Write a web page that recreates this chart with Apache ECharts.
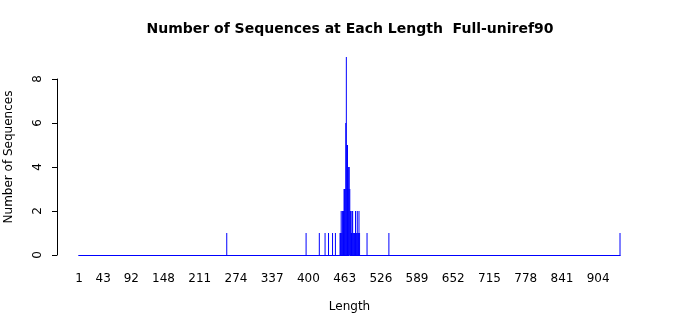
<!DOCTYPE html>
<html>
<head>
<meta charset="utf-8">
<script src="https://cdn.jsdelivr.net/npm/echarts@6/dist/echarts.min.js"></script>
<style>html,body{margin:0;padding:0;background:#fff;}#c{width:700px;height:315px;}</style>
</head>
<body>
<div id="c"></div>
<script>
// Sequence lengths that occur and their counts
const lengths = [258, 396, 419, 429, 435, 442, 447, 455, 456, 457, 458, 459, 460, 461, 462, 463, 464, 465, 466, 467, 468, 469, 470, 471, 472, 473, 474, 475, 476, 477, 478, 479, 480, 481, 482, 483, 484, 485, 486, 487, 488, 489, 502, 540, 942];
const counts  = [1,   1,   1,   1,   1,   1,   1,   1,   1,   2,   1,   2,   2,   2,   3,   3,   3,   6,   9,   5,   5,   3,   4,   4,   3,   2,   2,   1,   2,   2,   1,   1,   1,   1,   2,   1,   1,   2,   1,   1,   2,   1,   1,   1,   1];
const xTickLabels = [1, 43, 92, 148, 211, 274, 337, 400, 463, 526, 589, 652, 715, 778, 841, 904];
const yTicks = [0, 2, 4, 6, 8];
const minLength = 1;
const maxLength = 942;

const categories = [];
const values = [];
for (let v = minLength; v <= maxLength; v++) { categories.push(String(v)); values.push(null); }
lengths.forEach((L, i) => { values[L - minLength] = counts[i]; });
const tickSet = new Set(xTickLabels.map(String));

const chart = echarts.init(document.getElementById('c'), null, {renderer: 'canvas'});
const font = 'DejaVu Sans';
chart.setOption({
  animation: false,
  title: {
    text: 'Number of Sequences at Each Length  Full-uniref90',
    left: 'center', top: 17,
    textStyle: {fontFamily: font, fontSize: 14, fontWeight: 'bold', color: '#000'}
  },
  grid: {left: 78.7, right: 79.7, top: 79, bottom: 60, containLabel: false, outerBoundsMode: 'none'},
  xAxis: {
    type: 'category',
    data: categories,
    boundaryGap: true,
    name: 'Length', nameLocation: 'middle', nameGap: 46,
    nameTextStyle: {fontFamily: font, fontSize: 12, color: '#000'},
    axisLine: {show: true, lineStyle: {color: '#0000FF', width: 1}},
    axisTick: {show: false},
    axisLabel: {
      interval: (idx, val) => tickSet.has(val),
      margin: 18, fontFamily: font, fontSize: 12, color: '#000', hideOverlap: false
    },
    splitLine: {show: false}
  },
  yAxis: {
    type: 'value', min: yTicks[0], max: yTicks[yTicks.length - 1], interval: 2,
    offset: 21.7,
    name: 'Number of Sequences', nameLocation: 'middle', nameGap: 42, nameRotate: 90,
    nameTextStyle: {fontFamily: font, fontSize: 12, color: '#000', padding: [0, 0, 0, 20]},
    axisLine: {show: true, lineStyle: {color: '#000', width: 1}},
    axisTick: {show: true, length: 5, lineStyle: {color: '#000'}},
    axisLabel: {rotate: 90, margin: 13, fontFamily: font, fontSize: 12, color: '#000'},
    splitLine: {show: false}
  },
  series: [{
    type: 'bar',
    data: values,
    barWidth: 1,
    clip: false,
    itemStyle: {color: '#0000FF'}
  }]
});
</script>
</body>
</html>
